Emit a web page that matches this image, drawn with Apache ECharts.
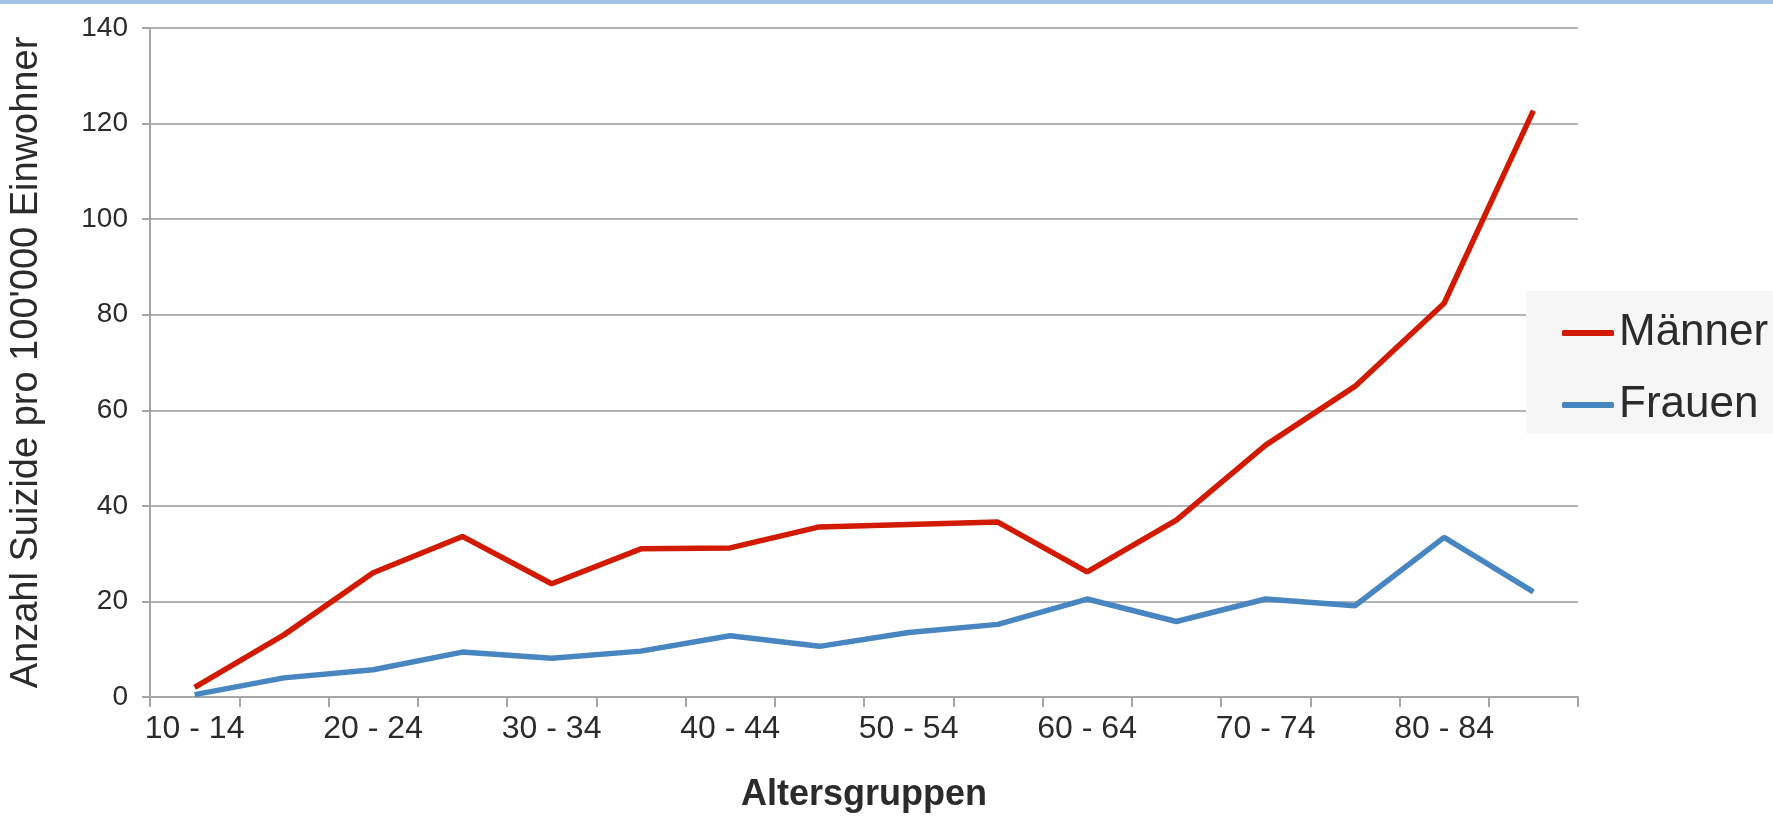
<!DOCTYPE html>
<html>
<head>
<meta charset="utf-8">
<script src="https://cdn.jsdelivr.net/npm/echarts@6/dist/echarts.min.js"></script>
<style>
html,body{margin:0;padding:0;background:#fff;}
#chart{width:1773px;height:818px;}
</style>
</head>
<body>
<div id="chart"></div>
<script>
const categories = ['10 - 14','15 - 19','20 - 24','25 - 29','30 - 34','35 - 39','40 - 44','45 - 49','50 - 54','55 - 59','60 - 64','65 - 69','70 - 74','75 - 79','80 - 84','85 - 89'];
const maenner = [2, 13, 26, 33.6, 23.7, 31, 31.2, 35.6, 36.1, 36.6, 26.2, 37, 52.7, 65, 82.4, 122.7];
const frauen = [0.5, 4.0, 5.7, 9.4, 8.1, 9.6, 12.8, 10.6, 13.5, 15.2, 20.5, 15.8, 20.5, 19.1, 33.4, 22];
const yTicks = {min: 0, max: 140, interval: 20};

const FONT = '"Liberation Sans", Arial, Helvetica, sans-serif';
const chart = echarts.init(document.getElementById('chart'), null, {renderer: 'canvas'});
chart.setOption({
  backgroundColor: '#ffffff',
  animation: false,
  textStyle: {fontFamily: FONT},
  graphic: [{
    type: 'rect', left: 0, top: 0, shape: {width: 1773, height: 4},
    style: {fill: '#a3c3e6'}, silent: true
  }],
  grid: {left: 135, right: 195, top: 28, bottom: 118, containLabel: false},
  legend: {
    orient: 'vertical',
    left: 1526, top: 291,
    backgroundColor: '#f6f6f6',
    padding: [20, 12, 6, 36],
    itemGap: 28,
    itemWidth: 52, itemHeight: 6,
    icon: 'roundRect',
    textStyle: {fontSize: 44, color: '#2b2b2b', fontFamily: FONT},
    data: ['Männer', 'Frauen']
  },
  xAxis: {
    type: 'category',
    data: categories,
    boundaryGap: true,
    name: 'Altersgruppen',
    nameLocation: 'middle',
    nameGap: 80,
    nameTextStyle: {fontSize: 36, fontWeight: 'bold', color: '#2b2b2b', fontFamily: FONT},
    axisLine: {lineStyle: {color: '#a6a6a6', width: 2}},
    axisTick: {show: true, interval: 0, length: 10, lineStyle: {color: '#a6a6a6', width: 2}},
    axisLabel: {interval: 1, fontSize: 32, color: '#2b2b2b', margin: 16, fontFamily: FONT},
    splitLine: {show: false}
  },
  yAxis: {
    type: 'value',
    min: yTicks.min, max: yTicks.max, interval: yTicks.interval,
    name: "Anzahl Suizide pro 100'000 Einwohner",
    nameLocation: 'middle',
    nameGap: 104,
    nameTextStyle: {fontSize: 38, color: '#2b2b2b', fontFamily: FONT},
    axisLine: {show: true, lineStyle: {color: '#a6a6a6', width: 2}},
    axisTick: {show: true, length: 8, lineStyle: {color: '#a6a6a6', width: 2}},
    axisLabel: {fontSize: 28, color: '#2b2b2b', margin: 22, fontFamily: FONT},
    splitLine: {show: true, lineStyle: {color: '#b3b3b3', width: 2}}
  },
  series: [
    {
      name: 'Männer', type: 'line', data: maenner,
      symbol: 'none', smooth: false,
      itemStyle: {color: '#d11a00'},
      lineStyle: {color: '#d11a00', width: 5.5}
    },
    {
      name: 'Frauen', type: 'line', data: frauen,
      symbol: 'none', smooth: false,
      itemStyle: {color: '#4886c2'},
      lineStyle: {color: '#4886c2', width: 5.5}
    }
  ]
});
</script>
</body>
</html>
